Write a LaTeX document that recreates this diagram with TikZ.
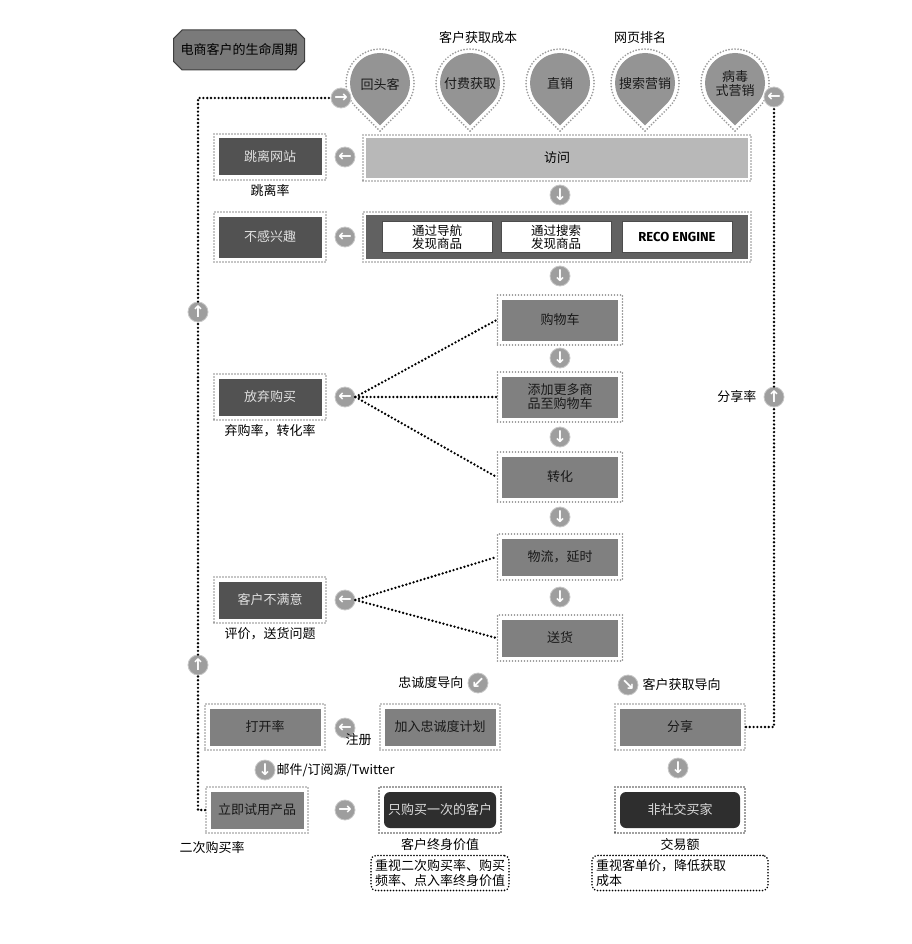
\documentclass[tikz,border=0pt]{standalone}
\usepackage{fontspec}
\setmainfont{Noto Sans CJK SC}
\newfontfamily\arrowfont{DejaVu Sans}
\newfontfamily\recofont{Fira Sans}
\usepackage{tikz}
\usetikzlibrary{shapes.misc, positioning, calc}

\begin{document}
\begin{tikzpicture}[x=1pt, y=-1pt, every node/.style={font=\fontsize{13}{15}\selectfont}]
    % Styles
    \tikzstyle{framed} = [draw=black!45, line width=1.9pt, dash pattern=on 0pt off 3pt, line cap=round,
                          fill=white, inner sep=0pt, align=center, minimum height=46pt]
    \tikzstyle{darkbox} = [framed, minimum width=112pt, text=black!12,
                           path picture={\fill[black!68] ([shift={(4.5pt,-4.5pt)}]path picture bounding box.north west) rectangle ([shift={(-4.5pt,4.5pt)}]path picture bounding box.south east);}]
    \tikzstyle{midbox} = [framed, minimum width=125pt, text=black!90,
                          path picture={\fill[black!50] ([shift={(4.5pt,-4.5pt)}]path picture bounding box.north west) rectangle ([shift={(-4.5pt,4.5pt)}]path picture bounding box.south east);}]
    \tikzstyle{blackbox} = [framed, minimum width=125pt, text=black!15, draw=black!75,
                            path picture={\fill[black!82, rounded corners=6pt] ([shift={(5pt,-5pt)}]path picture bounding box.north west) rectangle ([shift={(-5pt,5pt)}]path picture bounding box.south east);}]
    \tikzstyle{lightbar} = [framed, minimum width=388pt,
                            path picture={\fill[black!28] ([shift={(3pt,-3pt)}]path picture bounding box.north west) rectangle ([shift={(-3pt,3pt)}]path picture bounding box.south east);}]
    \tikzstyle{darkbar} = [framed, minimum width=388pt, minimum height=50pt,
                           path picture={\fill[black!62] ([shift={(3pt,-3pt)}]path picture bounding box.north west) rectangle ([shift={(-3pt,3pt)}]path picture bounding box.south east);}]
    \tikzstyle{whitebox} = [fill=white, draw=black!70, line width=0.6pt, minimum width=110pt, minimum height=31pt,
                            inner sep=0pt, align=center, font=\fontsize{12.5}{13}\selectfont]
    \tikzstyle{arrowc} = [circle, fill=black!38, draw=black!22, line width=0.8pt, minimum size=20pt, inner sep=0pt,
                          text=white, font=\arrowfont\bfseries\fontsize{16}{16}\selectfont]
    \tikzstyle{pinshape} = [fill=black!42]
    \tikzstyle{pinhalo} = [draw=black!40, line width=1.9pt, dash pattern=on 0pt off 3pt, line cap=round]
    \tikzstyle{pintext} = [align=center, text=black!90, font=\fontsize{13}{14}\selectfont]
    \tikzstyle{titlebox} = [chamfered rectangle, chamfered rectangle xsep=5pt, fill=black!52, draw=black!75,
                            line width=1pt, minimum width=122pt, minimum height=40pt, inner sep=2pt]
    \tikzstyle{link} = [line width=2.6pt, dash pattern=on 0pt off 3.8pt, line cap=round]
    \tikzstyle{note} = [draw, line width=1.8pt, dash pattern=on 0pt off 3pt, line cap=round,
                        rounded corners=5pt, align=left, inner sep=4pt]
    \tikzstyle{lbl} = [inner sep=1pt]

    \useasboundingbox (0,0) rectangle (911,944);

    % Pins
    \foreach \px in {380,470,560,645,735} {
        \fill[pinshape] (\px,125.4) -- ++(-21.2pt,21.2pt) arc[start angle=225, end angle=-45, radius=30pt] -- cycle;
        \draw[pinhalo] (\px,131.1) -- ++(-24pt,24pt) arc[start angle=225, end angle=-45, radius=34pt] -- cycle;
    }
    \node[pintext] (pin1) at (380,84) {回头客};
    \node[pintext] (pin2) at (470,84) {付费获取};
    \node[pintext] (pin3) at (560,84) {直销};
    \node[pintext] (pin4) at (645,84) {搜索营销};
    \node[pintext] (pin5) at (735,84) {病毒\\式营销};
    \node[lbl] (costlbl) at (478,38) {客户获取成本};
    \node[lbl] (ranklbl) at (640,38) {网页排名};

    % Title
    \node[titlebox] (title) at (239,50) {电商客户的生命周期};

    % Nodes
    \node[darkbox] (leave) at (270,157) {跳离网站};
    \node[lightbar] (visit) at (557,158) {访问};
    \node[darkbox, minimum height=50pt] (nointerest) at (270,237) {不感兴趣};
    \node[darkbar] (findbar) at (557,237) {};
    \node[whitebox] (nav) at (437,237) {通过导航\\发现商品};
    \node[whitebox] (search) at (556,237) {通过搜索\\发现商品};
    \node[whitebox, font=\recofont\bfseries\fontsize{13}{13}\selectfont] (reco) at (677,237) {RECO ENGINE};

    \node[midbox, minimum height=50pt] (cart) at (560,320) {购物车};
    \node[midbox, minimum height=50pt, font=\fontsize{13}{14}\selectfont] (addmore) at (560,397) {添加更多商\\品至购物车};
    \node[midbox, minimum height=50pt] (convert) at (560,477) {转化};
    \node[midbox] (logistic) at (560,557) {物流，延时};
    \node[midbox] (deliver) at (560,638) {送货};

    \node[darkbox] (abandon) at (270,397) {放弃购买};
    \node[darkbox] (unhappy) at (270,600) {客户不满意};

    \node[midbox, minimum width=120pt] (openrate) at (265,727) {打开率};
    \node[midbox, minimum width=120pt] (loyalty) at (440,727) {加入忠诚度计划};
    \node[midbox, minimum width=130pt] (share) at (680,727) {分享};
    \node[midbox, minimum width=102pt] (trial) at (257,810) {立即试用产品};
    \node[blackbox, minimum width=122pt] (once) at (440,810) {只购买一次的客户};
    \node[blackbox, minimum width=130pt] (nonsocial) at (680,810) {非社交买家};

    % Arrow circles
    \node[arrowc] (ar1) at (341,98) {→};
    \node[arrowc] (ar2) at (774,97) {←};
    \node[arrowc] (ar3) at (345,157) {←};
    \node[arrowc] (ar4) at (560,195) {↓};
    \node[arrowc] (ar5) at (345,237) {←};
    \node[arrowc] (ar6) at (560,276) {↓};
    \node[arrowc] (ar7) at (198,312) {↑};
    \node[arrowc] (ar8) at (560,358) {↓};
    \node[arrowc] (ar9) at (345,397) {←};
    \node[arrowc] (ar10) at (560,437) {↓};
    \node[arrowc] (ar11) at (774,397) {↑};
    \node[arrowc] (ar12) at (560,517) {↓};
    \node[arrowc] (ar13) at (560,597) {↓};
    \node[arrowc] (ar14) at (345,600) {←};
    \node[arrowc] (ar15) at (198,665) {↑};
    \node[arrowc] (ar16) at (478,683) {↙};
    \node[arrowc] (ar17) at (628,685) {↘};
    \node[arrowc] (ar18) at (345,728) {←};
    \node[arrowc] (ar19) at (265,770) {↓};
    \node[arrowc] (ar20) at (678,768) {↓};
    \node[arrowc] (ar21) at (345,810) {→};

    % Labels
    \node[lbl, below=2pt of leave] (leavelbl) {跳离率};
    \node[lbl, below=2pt of abandon] (abandonlbl) {弃购率，转化率};
    \node[lbl, below=2pt of unhappy] (unhappylbl) {评价，送货问题};
    \node[lbl] (repeatlbl) at (212,848) {二次购买率};
    \node[lbl, below=3pt of once] (lifelbl) {客户终身价值};
    \node[lbl, below=3pt of nonsocial] (tradelbl) {交易额};
    \node[lbl, left=6pt of ar11] (sharelbl) {分享率};
    \node[lbl, left=3pt of ar16] (loyallbl) {忠诚度导向};
    \node[lbl, right=3pt of ar17] (acqlbl) {客户获取导向};
    \node[lbl, below right=-3pt and -8pt of ar18] (reglbl) {注册};
    \node[lbl, right=0pt of ar19] (maillbl) {邮件/订阅源/Twitter};
    \node[note, below=3pt of lifelbl] (lifenote) {重视二次购买率、购买\\频率、点入率终身价值};
    \node[note, below=3pt of tradelbl, text width=168pt] (tradenote) {重视客单价，降低获取\\成本};

    % Connections
    \draw[link] (trial.west) -| (ar15.south);
    \draw[link] (ar15.north) -- (ar7.south);
    \draw[link] (ar7.north) |- (ar1.west);
    \draw[link] (share.east) -| (ar11.south);
    \draw[link] (ar11.north) -- (ar2.south);
    \draw[link] (ar9.east) -- (cart.west);
    \draw[link] (ar9.east) -- (addmore.west);
    \draw[link] (ar9.east) -- (convert.west);
    \draw[link] (ar14.east) -- (logistic.west);
    \draw[link] (ar14.east) -- (deliver.west);
\end{tikzpicture}
\end{document}
